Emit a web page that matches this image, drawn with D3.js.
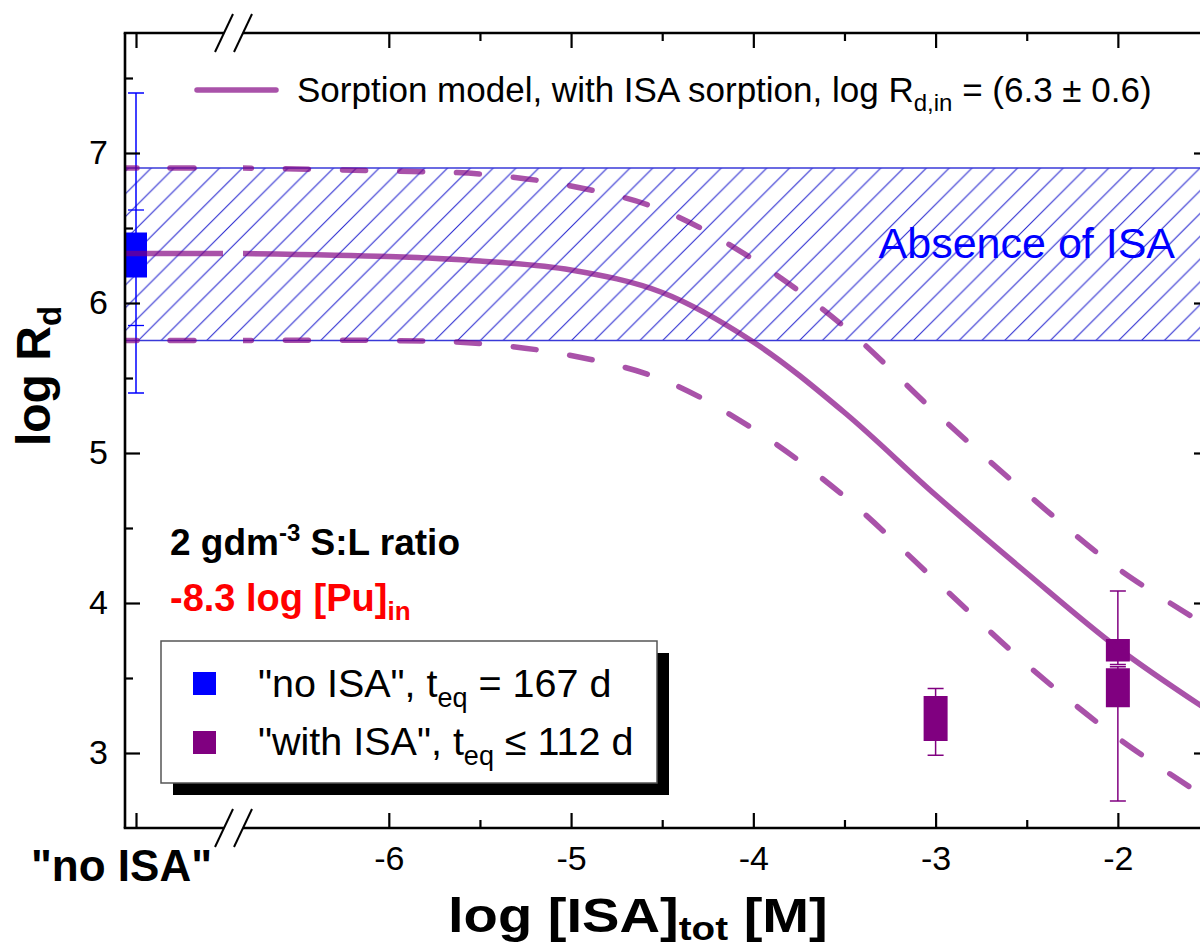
<!DOCTYPE html>
<html>
<head>
<meta charset="utf-8">
<script src="https://cdn.jsdelivr.net/npm/d3@7"></script>
<style>
  body { margin: 0; background: #fff; }
  svg { display: block; }
  text { font-family: "Liberation Sans", Arial, Helvetica, sans-serif; }
</style>
</head>
<body>
<svg id="chart" width="1200" height="949"></svg>
<script>
// ---- Sorption model along log [ISA]_tot (central curve and its uncertainty envelope)
const modelX     = [-6.8, -6, -5.5, -5, -4.5, -4, -3.5, -3, -2.5, -2, -1.5];
const modelMid   = [6.33, 6.31, 6.28, 6.22, 6.07, 5.74, 5.27, 4.72, 4.20, 3.70, 3.28];
const modelUpper = [6.90, 6.88, 6.86, 6.78, 6.62, 6.29, 5.84, 5.27, 4.73, 4.23, 3.84];
const modelLower = [5.75, 5.75, 5.73, 5.65, 5.49, 5.16, 4.71, 4.15, 3.59, 3.10, 2.69];

// Model level without ISA: [lower, mid, upper]
const noIsaModel = [5.75, 6.33, 6.90];
// Shaded range for the absence of ISA
const absenceBand = [5.75, 6.90];

// ---- "no ISA" measurement (t_eq = 167 d)
const noIsaCategory = ['"no ISA"'];
const noIsaBox      = [6.17, 6.47];
const noIsaErr      = [5.40, 7.40];
const noIsaInnerErr = [5.85, 6.62];

// ---- "with ISA" measurements (t_eq <= 112 d)
const isaX       = [-3, -2, -2];
const isaBoxLow  = [3.08, 3.61, 3.305];
const isaBoxHigh = [3.38, 3.76, 3.565];
const isaErrLow  = [2.985, 3.59, 2.68];
const isaErrHigh = [3.43, 4.08, 3.575];

// ---- Axis ticks
const xMajor = [-6, -5, -4, -3, -2];
const xMinor = [-5.5, -4.5, -3.5, -2.5, -1.5];
const yMajor = [3, 4, 5, 6, 7];
const yMinor = [3.5, 4.5, 5.5, 6.5, 7.5];

// ---- Layout
const plotLeft = 125, plotRight = 1209, plotTop = 33, plotBottom = 828;
const breakA = 224, breakB = 243;   // axis break between the "no ISA" column and the log scale
const purple = "#800080", modelColor = "#800080", blue = "#0000ff", hatchBlue = "#2a2ad0";

const svg = d3.select("#chart");

const x = d3.scaleLinear().domain([-6.8, -1.5]).range([breakB, plotRight]);
const xCat = d3.scalePoint().domain(noIsaCategory).range([136, 136]);
const y = d3.scaleLinear().domain([2.5, 7.8]).range([plotBottom, plotTop]);

// clip paths for the two x segments
const defs = svg.append("defs");
defs.append("clipPath").attr("id", "clipR").append("rect")
  .attr("x", breakB).attr("y", plotTop).attr("width", plotRight - breakB).attr("height", plotBottom - plotTop);
defs.append("clipPath").attr("id", "clipL").append("rect")
  .attr("x", plotLeft).attr("y", plotTop).attr("width", breakA - plotLeft - 1).attr("height", plotBottom - plotTop);

// diagonal hatch pattern
const pat = defs.append("pattern").attr("id", "hatch").attr("patternUnits", "userSpaceOnUse")
  .attr("width", 22.8).attr("height", 22.8);
pat.append("path").attr("d", "M0,22.8 L22.8,0 M-5,5 L5,-5 M17.8,27.8 L27.8,17.8")
  .attr("stroke", hatchBlue).attr("stroke-width", 1.1);

// ---- Absence-of-ISA band
svg.append("rect")
  .attr("x", plotLeft).attr("width", plotRight - plotLeft)
  .attr("y", y(absenceBand[1])).attr("height", y(absenceBand[0]) - y(absenceBand[1]))
  .attr("fill", "url(#hatch)");
svg.selectAll("line.band").data(absenceBand).join("line").attr("class", "band")
  .attr("x1", plotLeft).attr("x2", plotRight)
  .attr("y1", d => y(d)).attr("y2", d => y(d))
  .attr("stroke", "#3a3ad8").attr("stroke-width", 1.4);

svg.append("text").attr("x", 1175).attr("y", 258).attr("text-anchor", "end")
  .attr("font-size", 43).attr("fill", blue).text("Absence of ISA");

// ---- error-bar + box marker helper
function boxMarker(g, cx, lo, hi, eLo, eHi, color, w) {
  g.append("line").attr("x1", cx).attr("x2", cx).attr("y1", y(eLo)).attr("y2", y(eHi))
    .attr("stroke", color).attr("stroke-width", 1.5);
  [eLo, eHi].forEach(v => g.append("line").attr("x1", cx - 8).attr("x2", cx + 8)
    .attr("y1", y(v)).attr("y2", y(v)).attr("stroke", color).attr("stroke-width", 1.5));
  g.append("rect").attr("x", cx - w / 2).attr("width", w)
    .attr("y", y(hi)).attr("height", y(lo) - y(hi)).attr("fill", color);
}

// "no ISA" marker
const gNo = svg.append("g");
const cxNo = xCat(noIsaCategory[0]);
noIsaInnerErr.forEach(v => gNo.append("line").attr("x1", cxNo - 8).attr("x2", cxNo + 8)
  .attr("y1", y(v)).attr("y2", y(v)).attr("stroke", blue).attr("stroke-width", 1.3));
boxMarker(gNo, cxNo, noIsaBox[0], noIsaBox[1], noIsaErr[0], noIsaErr[1], blue, 22);

// "with ISA" markers
const gIsa = svg.append("g");
isaX.forEach((v, i) => boxMarker(gIsa, x(v), isaBoxLow[i], isaBoxHigh[i], isaErrLow[i], isaErrHigh[i], purple, 24));

// ---- model curves
const line = d3.line().x(d => x(d[0])).y(d => y(d[1])).curve(d3.curveCatmullRom.alpha(0.5));
const gR = svg.append("g").attr("clip-path", "url(#clipR)");
const gL = svg.append("g").attr("clip-path", "url(#clipL)");
const curves = [
  { vals: modelUpper, dash: true,  level: noIsaModel[2] },
  { vals: modelLower, dash: true,  level: noIsaModel[0] },
  { vals: modelMid,   dash: false, level: noIsaModel[1] }
];
curves.forEach(c => {
  gR.append("path").attr("d", line(modelX.map((v, i) => [v, c.vals[i]])))
    .attr("fill", "none").attr("stroke", modelColor).attr("stroke-opacity", 0.68)
    .attr("stroke-width", 5.5).attr("stroke-linecap", c.dash ? "round" : "butt")
    .attr("stroke-dasharray", c.dash ? "23,34" : null)
    .attr("stroke-dashoffset", c.dash ? 14.5 : null);
  gL.append("line").attr("x1", c.dash ? 113 : plotLeft).attr("x2", breakA)
    .attr("y1", y(c.level)).attr("y2", y(c.level))
    .attr("stroke", modelColor).attr("stroke-opacity", 0.68).attr("stroke-width", 5.5)
    .attr("stroke-linecap", c.dash ? "round" : "butt")
    .attr("stroke-dasharray", c.dash ? "24,33" : null);
});

// ---- axes
const axisFont = 34;
const plain = d => String(d);
function styleAxis(g) {
  g.attr("font-family", null).attr("font-size", axisFont);
  g.selectAll("line").attr("stroke", "#000").attr("stroke-width", 2.2);
  g.selectAll("text").attr("fill", "#000");
  g.select(".domain").remove();
}
// left
svg.append("g").attr("transform", `translate(${plotLeft},0)`)
  .call(d3.axisLeft(y).tickValues(yMajor).tickSize(-15).tickPadding(17).tickFormat(plain))
  .call(styleAxis);
svg.append("g").attr("transform", `translate(${plotLeft},0)`)
  .call(d3.axisLeft(y).tickValues(yMinor).tickSize(-8).tickFormat(""))
  .call(styleAxis);
// right (ticks only)
svg.append("g").attr("transform", `translate(${plotRight},0)`)
  .call(d3.axisRight(y).tickValues(yMajor).tickSize(-15).tickFormat(""))
  .call(styleAxis);
svg.append("g").attr("transform", `translate(${plotRight},0)`)
  .call(d3.axisRight(y).tickValues(yMinor).tickSize(-8).tickFormat(""))
  .call(styleAxis);
// bottom
svg.append("g").attr("transform", `translate(0,${plotBottom})`)
  .call(d3.axisBottom(x).tickValues(xMajor).tickSize(-15).tickPadding(18).tickFormat(plain))
  .call(styleAxis);
svg.append("g").attr("transform", `translate(0,${plotBottom})`)
  .call(d3.axisBottom(x).tickValues(xMinor).tickSize(-8).tickFormat(""))
  .call(styleAxis);
svg.append("g").attr("transform", `translate(0,${plotBottom})`)
  .call(d3.axisBottom(xCat).tickSize(-15).tickPadding(22))
  .call(styleAxis)
  .call(g => g.selectAll("text").attr("font-weight", "bold").attr("font-size", 44).attr("dx", -15));
// top
svg.append("g").attr("transform", `translate(0,${plotTop})`)
  .call(d3.axisTop(x).tickValues(xMajor).tickSize(-15).tickFormat(""))
  .call(styleAxis);
svg.append("g").attr("transform", `translate(0,${plotTop})`)
  .call(d3.axisTop(x).tickValues(xMinor).tickSize(-8).tickFormat(""))
  .call(styleAxis);
svg.append("g").attr("transform", `translate(0,${plotTop})`)
  .call(d3.axisTop(xCat).tickSize(-15).tickFormat(""))
  .call(styleAxis);

// axis lines with the break
const frame = svg.append("g").attr("stroke", "#000").attr("stroke-width", 2.6).attr("fill", "none");
[plotTop, plotBottom].forEach(yy => {
  frame.append("line").attr("x1", plotLeft - 1.3).attr("x2", breakA).attr("y1", yy).attr("y2", yy);
  frame.append("line").attr("x1", breakB).attr("x2", plotRight + 1.3).attr("y1", yy).attr("y2", yy);
  [breakA, breakB].forEach(bx => frame.append("line")
    .attr("x1", bx - 9).attr("y1", yy + 19).attr("x2", bx + 9).attr("y2", yy - 19)
    .attr("stroke-width", 2));
});
frame.append("line").attr("x1", plotLeft).attr("x2", plotLeft).attr("y1", plotTop).attr("y2", plotBottom);
frame.append("line").attr("x1", plotRight).attr("x2", plotRight).attr("y1", plotTop).attr("y2", plotBottom);

// ---- axis titles
const yt = svg.append("text").attr("transform", "translate(50,376) rotate(-90)")
  .attr("text-anchor", "middle").attr("font-size", 48).attr("font-weight", "bold");
yt.append("tspan").text("log R");
yt.append("tspan").attr("font-size", 33).attr("dy", 11).text("d");

const xt = svg.append("text").attr("transform", "translate(448,932) scale(1.17,1)")
  .attr("font-size", 48).attr("font-weight", "bold");
xt.append("tspan").text("log [ISA]");
xt.append("tspan").attr("font-size", 33).attr("dy", 8).text("tot");
xt.append("tspan").attr("dy", -8).text(" [M]");

// ---- top legend (model curve)
svg.append("line").attr("x1", 197).attr("x2", 276).attr("y1", 90).attr("y2", 90)
  .attr("stroke", modelColor).attr("stroke-opacity", 0.68).attr("stroke-width", 5.5).attr("stroke-linecap", "round");
const lt = svg.append("text").attr("x", 297).attr("y", 102).attr("font-size", 35);
lt.append("tspan").text("Sorption model, with ISA sorption, log R");
lt.append("tspan").attr("font-size", 24).attr("dy", 9).text("d,in");
lt.append("tspan").attr("dy", -9).text(" = (6.3 \u00B1 0.6)");

// ---- conditions
const c1 = svg.append("text").attr("x", 170).attr("y", 555).attr("font-size", 37).attr("font-weight", "bold");
c1.append("tspan").text("2 gdm");
c1.append("tspan").attr("font-size", 24).attr("dy", -14).text("-3");
c1.append("tspan").attr("dy", 14).text(" S:L ratio");
const c2 = svg.append("text").attr("x", 170).attr("y", 611).attr("font-size", 38)
  .attr("font-weight", "bold").attr("fill", "#ff0000");
c2.append("tspan").text("-8.3 log [Pu]");
c2.append("tspan").attr("font-size", 26).attr("dy", 9).text("in");

// ---- data legend
const lg = svg.append("g");
lg.append("rect").attr("x", 173).attr("y", 653).attr("width", 496).attr("height", 142).attr("fill", "#000");
lg.append("rect").attr("x", 161).attr("y", 641).attr("width", 496).attr("height", 142)
  .attr("fill", "#fff").attr("stroke", "#555").attr("stroke-width", 1.5);
const entries = [
  { color: blue,   pre: "\"no ISA\", t",   post: " = 167 d", cy: 684, base: 697 },
  { color: purple, pre: "\"with ISA\", t", post: " \u2264 112 d", cy: 743, base: 755 }
];
entries.forEach(e => {
  lg.append("rect").attr("x", 193).attr("y", e.cy - 12).attr("width", 23).attr("height", 23).attr("fill", e.color);
  const t = lg.append("text").attr("x", 258).attr("y", e.base).attr("font-size", 39.5);
  t.append("tspan").text(e.pre);
  t.append("tspan").attr("font-size", 27).attr("dy", 10).text("eq");
  t.append("tspan").attr("dy", -10).text(e.post);
});
</script>
</body>
</html>
